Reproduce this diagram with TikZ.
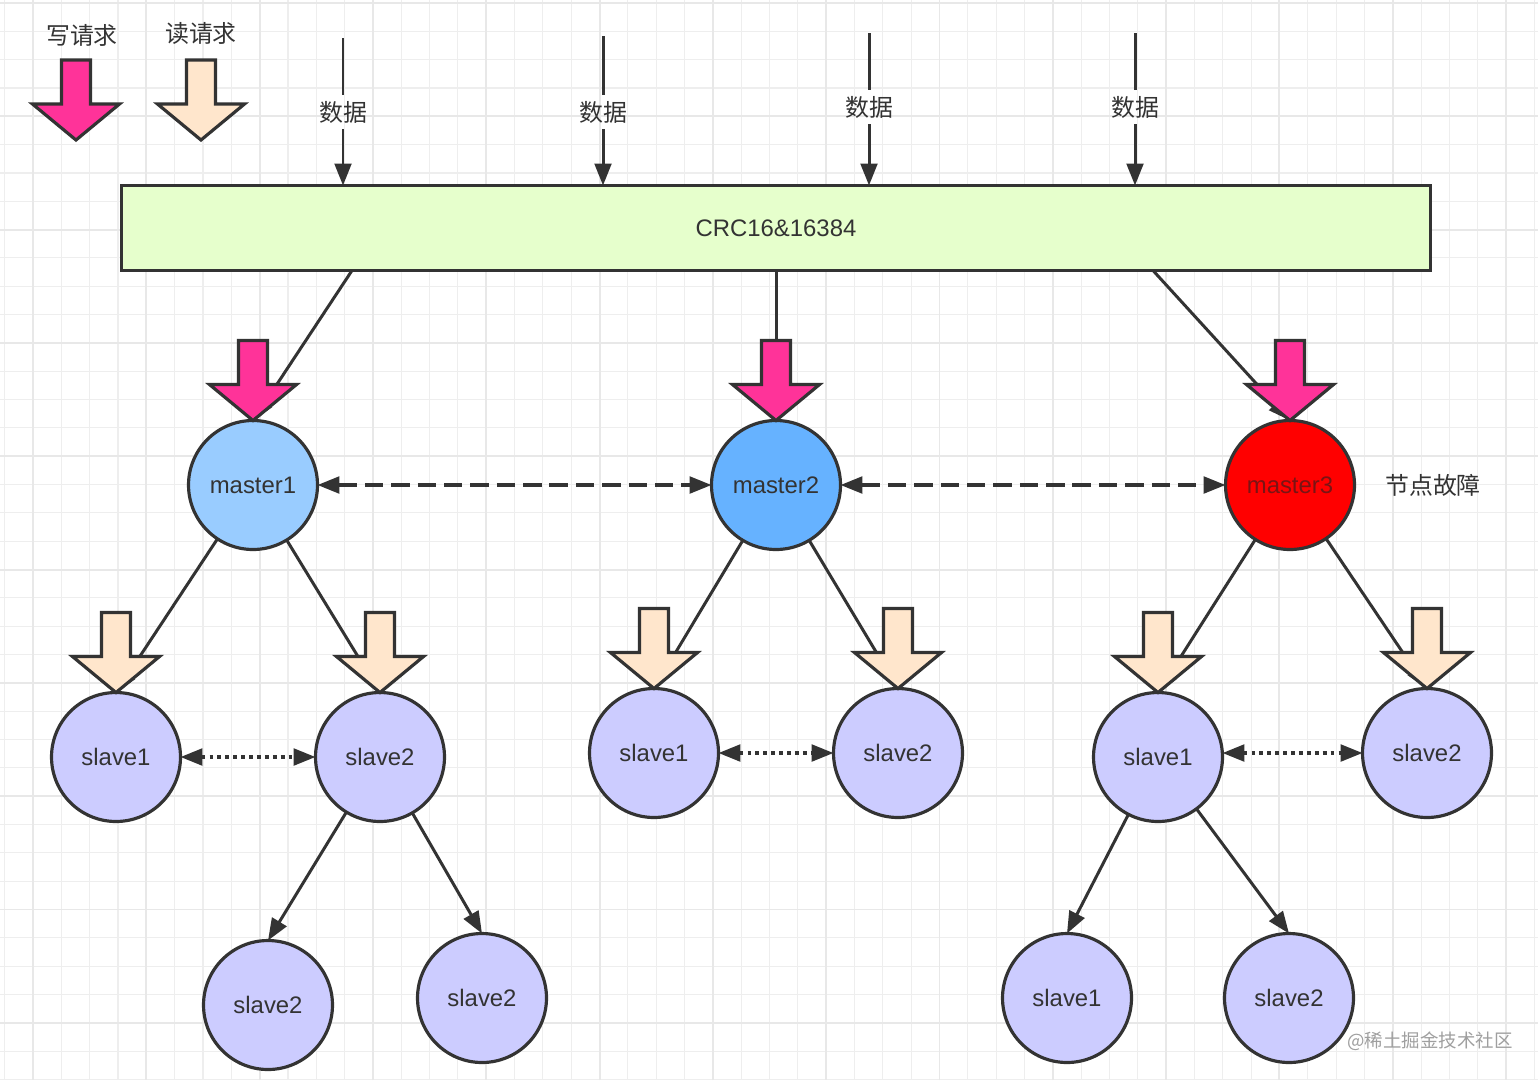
\documentclass[tikz,border=0pt]{standalone}
\usepackage{fontspec}
\setmainfont{Liberation Sans}
\newfontfamily\cjk{Noto Sans CJK SC}
\usepackage{tikz}
\usetikzlibrary{arrows.meta}
\usetikzlibrary{calc}
\definecolor{ink}{HTML}{333333}
\definecolor{writepink}{HTML}{FF3399}
\definecolor{readpeach}{HTML}{FFE6CC}
\definecolor{crcgreen}{HTML}{E6FFCC}
\definecolor{slavefill}{HTML}{CCCCFF}
\definecolor{masterone}{HTML}{99CCFF}
\definecolor{mastertwo}{HTML}{66B2FF}
\definecolor{masterthree}{HTML}{FF0000}
\definecolor{failtext}{HTML}{7A1414}
\definecolor{gridminor}{HTML}{EEEEEE}
\definecolor{gridmajor}{HTML}{E8E8E8}
\newcommand{\labelfont}{\fontsize{13.6}{16}\selectfont}
\tikzset{%
    every node/.style={text=ink, font=\labelfont},
    tip/.tip={Triangle[length=12.5pt,width=9.5pt]},
    ring/.style={circle, draw=ink, line width=1.8pt, minimum size=2.58cm, inner sep=0pt, outer sep=0pt},
    master node/.style={ring, fill=#1},
    slave node/.style={ring, fill=slavefill},
    crc box/.style={draw=ink, line width=1.8pt, fill=crcgreen, minimum width=26.18cm, minimum height=1.7cm, inner sep=0pt, outer sep=0pt},
    feed/.style={draw=ink, line width=1.7pt, -tip},
    master link/.style={draw=ink, line width=1.9pt, dash pattern=on 10.5pt off 4.5pt, tip-tip},
    slave link/.style={draw=ink, line width=1.9pt, dash pattern=on 2.2pt off 2.3pt, tip-tip},
    pics/req arrow/.style={code={
        \draw[draw=ink, line width=1.8pt, fill=#1, line join=miter]
            (0,0) -- (-43.5,-36) -- (-14.5,-36) -- (-14.5,-80) -- (14.5,-80) -- (14.5,-36) -- (43.5,-36) -- cycle;
    }},
}

\begin{document}
\begin{tikzpicture}[x=0.02cm, y=-0.02cm]
    \useasboundingbox (0,0) rectangle (1538,1080);
    \fill[white] (0,0) rectangle (1538,1080);
    \draw[gridminor, line width=0.6pt, step=0.56667cm, shift={(4.7,3)}] (-4.7,-3) grid (1533.3,1077);
    \draw[gridmajor, line width=1.1pt, step=2.26667cm, shift={(33,3)}] (-33,-3) grid (1505,1077);

    \node (wlabel) at (82,35) {\cjk 写请求};
    \node (rlabel) at (201,33) {\cjk 读请求};
    \pic at (76,140) {req arrow=writepink};
    \pic at (201,140) {req arrow=readpeach};

    \node[crc box] (crc) at (776,228) {CRC16\&16384};

    \foreach \x/\top/\lab [count=\i] in {343/38/112, 603/36/112, 869/33/107, 1135/33/107} {
        \coordinate (src\i) at (\x,\top);
        \node (data\i) at (\x,\lab) {\cjk 数据};
        \draw[draw=ink, line width=1.7pt] (src\i) -- (data\i);
        \draw[feed] (data\i) -- (data\i |- crc.north);
    }

    \node[master node=masterone] (m1) at (253,485) {master1};
    \node[master node=mastertwo] (m2) at (776,485) {master2};
    \node[master node=masterthree, text=failtext] (m3) at (1290,485) {master3};
    \node (fault) at (1433,485) {\cjk 节点故障};

    \node[slave node] (s11) at (116,757) {slave1};
    \node[slave node] (s12) at (380,757) {slave2};
    \node[slave node] (s121) at (268,1005) {slave2};
    \node[slave node] (s122) at (482,998) {slave2};
    \node[slave node] (s21) at (654,753) {slave1};
    \node[slave node] (s22) at (898,753) {slave2};
    \node[slave node] (s31) at (1158,757) {slave1};
    \node[slave node] (s32) at (1427,753) {slave2};
    \node[slave node] (s311) at (1067,998) {slave1};
    \node[slave node] (s312) at (1289,998) {slave2};

    \draw[feed] ($(crc.south)+(-424,0)$) -- (m1.north);
    \draw[feed] (crc.south) -- (m2.north);
    \draw[feed] ($(crc.south)+(377,0)$) -- (m3.north);

    \foreach \a/\b in {m1/s11, m1/s12, m2/s21, m2/s22, m3/s31, m3/s32, s12/s121, s12/s122, s31/s311, s31/s312}
        \draw[feed] (\a) -- (\b.north);

    \draw[master link] (m1) -- (m2);
    \draw[master link] (m2) -- (m3);
    \draw[slave link] (s11) -- (s12);
    \draw[slave link] (s21) -- (s22);
    \draw[slave link] (s31.east |- s32) -- (s32);

    \foreach \n in {m1,m2,m3}
        \pic at (\n.north) {req arrow=writepink};
    \foreach \n in {s11,s12,s21,s22,s31,s32}
        \pic at (\n.north) {req arrow=readpeach};

    \node[font=\cjk\fontsize{10.5}{12}\selectfont, text=gray!75] (mark) at (1430,1041) {@稀土掘金技术社区};
\end{tikzpicture}
\end{document}
